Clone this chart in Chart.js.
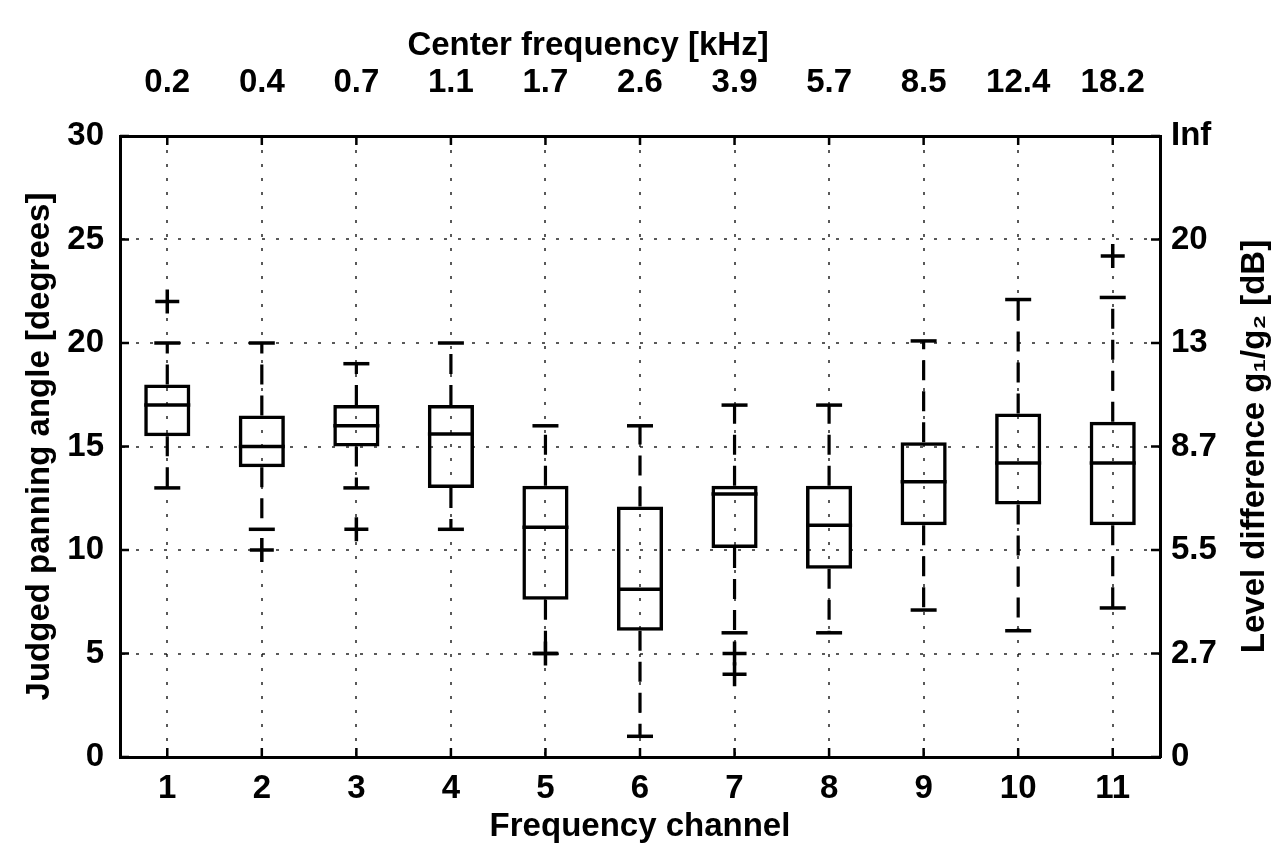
<!DOCTYPE html>
<html>
<head>
<meta charset="utf-8">
<script src="https://cdn.jsdelivr.net/npm/chart.js@4.4.0/dist/chart.umd.min.js"></script>
<style>
html, body { margin: 0; padding: 0; background: #fff; }
#wrap { width: 1273px; height: 847px; position: relative; }
</style>
</head>
<body>
<div id="wrap"><canvas id="chart"></canvas></div>
<script>
var channels = [1, 2, 3, 4, 5, 6, 7, 8, 9, 10, 11];
var centerFreq = ['0.2', '0.4', '0.7', '1.1', '1.7', '2.6', '3.9', '5.7', '8.5', '12.4', '18.2'];
var angleTicks = [0, 5, 10, 15, 20, 25, 30];
var levelDiff = ['0', '2.7', '5.5', '8.7', '13', '20', 'Inf'];

// box plot stats per channel (degrees)
var whiskerLow = [13, 11, 13, 11, 5, 1, 6, 6, 7.1, 6.1, 7.2];
var q1 = [15.5, 14, 15, 13, 7.6, 6.1, 10.1, 9.1, 11.2, 12.2, 11.2];
var median = [17, 15, 16, 15.6, 11.1, 8.1, 12.7, 11.2, 13.3, 14.2, 14.2];
var q3 = [18, 16.5, 17, 17, 13.1, 12.1, 13.1, 13.1, 15.2, 16.6, 16.2];
var whiskerHigh = [20, 20, 19, 20, 16, 16, 17, 17, 20.1, 22.1, 22.2];

var outlierChannel = [1, 2, 3, 5, 7, 7, 11];
var outlierAngle = [22, 10, 11, 5, 5, 4, 24.2];

var font = '"Liberation Sans", Arial, Helvetica, sans-serif';
var tickFont = { family: font, size: 33, weight: 'bold' };

var boxes = channels.map(function (c, i) { return { x: c, y: [q1[i], q3[i]] }; });
var medians = channels.map(function (c, i) { return { x: c, y: median[i] }; });
var caps = [];
var whiskers = [];
channels.forEach(function (c, i) {
    caps.push({ x: c, y: whiskerLow[i] }, { x: c, y: whiskerHigh[i] });
    whiskers.push({ x: c, y: q3[i] }, { x: c, y: whiskerHigh[i] }, { x: c, y: null });
    whiskers.push({ x: c, y: q1[i] }, { x: c, y: whiskerLow[i] }, { x: c, y: null });
});
var outliers = outlierChannel.map(function (c, i) { return { x: c, y: outlierAngle[i] }; });

// matlab style inward ticks, top label (sits left of centre) and right label reading upward
var extras = {
    id: 'extras',
    afterDraw: function (chart) {
        var ctx = chart.ctx, a = chart.chartArea, s = chart.scales;
        ctx.save();
        ctx.strokeStyle = '#000';
        ctx.lineWidth = 2.5;
        ctx.beginPath();
        channels.forEach(function (c) {
            var px = s.x.getPixelForValue(c);
            ctx.moveTo(px, a.bottom); ctx.lineTo(px, a.bottom - 9);
            ctx.moveTo(px, a.top); ctx.lineTo(px, a.top + 9);
        });
        angleTicks.forEach(function (v) {
            var py = s.y.getPixelForValue(v);
            ctx.moveTo(a.left, py); ctx.lineTo(a.left + 9, py);
            ctx.moveTo(a.right, py); ctx.lineTo(a.right - 9, py);
        });
        ctx.stroke();

        ctx.font = 'bold 33px ' + font;
        ctx.fillStyle = '#000';
        ctx.textAlign = 'center';
        ctx.textBaseline = 'middle';
        ctx.fillText('Center frequency [kHz]', s.x2.getPixelForValue(5.45), 46);

        ctx.translate(s.y2.right - 18, (a.top + a.bottom) / 2);
        ctx.rotate(-Math.PI / 2);
        ctx.fillText('Level difference g\u2081/g\u2082 [dB]', 0, 0);
        ctx.restore();
    }
};

function fixTicks(list) {
    return function (scale) {
        scale.ticks = list.map(function (v) { return { value: v }; });
    };
}

new Chart(document.getElementById('chart'), {
    type: 'bar',
    data: {
        datasets: [
            {
                type: 'line', data: whiskers, borderColor: '#000', borderWidth: 3.2,
                borderDash: [20, 11], pointRadius: 0, spanGaps: false, order: 4
            },
            {
                type: 'bar', data: boxes, backgroundColor: 'rgba(0,0,0,0)', borderColor: '#000',
                borderWidth: 3.5, borderSkipped: false, barPercentage: 0.61, categoryPercentage: 0.8, order: 3
            },
            {
                type: 'scatter', data: caps, pointStyle: 'line', pointRadius: 13,
                pointBorderWidth: 3.5, borderColor: '#000', order: 2
            },
            {
                type: 'scatter', data: medians, pointStyle: 'line', pointRadius: 23,
                pointBorderWidth: 3.5, borderColor: '#000', order: 1
            },
            {
                type: 'scatter', data: outliers, pointStyle: 'cross', pointRadius: 12,
                pointBorderWidth: 3.5, borderColor: '#000', order: 0
            }
        ]
    },
    options: {
        responsive: true,
        maintainAspectRatio: false,
        animation: false,
        layout: { padding: 0 },
        plugins: { legend: { display: false }, tooltip: { enabled: false } },
        scales: {
            x: {
                type: 'linear', position: 'bottom', min: 0.5, max: 11.5, offset: false,
                afterBuildTicks: fixTicks(channels),
                afterFit: function (scale) { scale.height = 90; },
                grid: { offset: false, color: 'rgba(0,0,0,0.65)', lineWidth: 2, drawTicks: false },
                border: { display: true, color: '#000', width: 3, dash: [3, 11] },
                ticks: { font: tickFont, color: '#000', padding: 12, maxRotation: 0 },
                title: { display: true, text: 'Frequency channel', font: tickFont, color: '#000', padding: { top: 0, bottom: 0 } }
            },
            x2: {
                type: 'linear', position: 'top', min: 0.5, max: 11.5, offset: false,
                afterBuildTicks: fixTicks(channels),
                afterFit: function (scale) { scale.height = 136; },
                grid: { offset: false, drawOnChartArea: false, drawTicks: false },
                border: { display: true, color: '#000', width: 3 },
                ticks: {
                    font: tickFont, color: '#000', padding: 33, maxRotation: 0,
                    callback: function (v) { return centerFreq[channels.indexOf(v)]; }
                }
            },
            y: {
                type: 'linear', position: 'left', min: 0, max: 30,
                afterBuildTicks: fixTicks(angleTicks),
                afterFit: function (scale) { scale.width = 120; },
                grid: { color: 'rgba(0,0,0,0.65)', lineWidth: 2, drawTicks: false },
                border: { display: true, color: '#000', width: 3, dash: [3, 11] },
                ticks: { font: tickFont, color: '#000', padding: 16 },
                title: { display: true, text: 'Judged panning angle [degrees]', font: tickFont, color: '#000', padding: { top: 20, bottom: 0 } }
            },
            y2: {
                type: 'linear', position: 'right', min: 0, max: 30,
                afterBuildTicks: fixTicks(angleTicks),
                afterFit: function (scale) { scale.width = 113; },
                grid: { drawOnChartArea: false, drawTicks: false },
                border: { display: true, color: '#000', width: 3 },
                ticks: {
                    font: tickFont, color: '#000', padding: 11,
                    callback: function (v) { return levelDiff[angleTicks.indexOf(v)]; }
                }
            }
        }
    },
    plugins: [extras]
});
</script>
</body>
</html>
